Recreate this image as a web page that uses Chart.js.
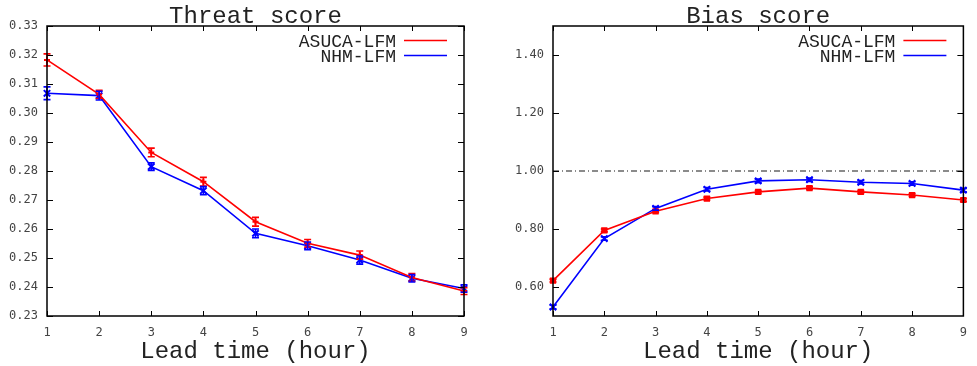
<!DOCTYPE html>
<html>
<head>
<meta charset="utf-8">
<script src="https://cdn.jsdelivr.net/npm/chart.js@4/dist/chart.umd.min.js"></script>
<style>
html, body { margin: 0; padding: 0; background: #fff; }
#wrap { position: relative; width: 977px; height: 366px; }
canvas { position: absolute; top: 0; }
</style>
</head>
<body>
<div id="wrap">
  <canvas id="threat" width="490" height="366" style="left:0"></canvas>
  <canvas id="bias" width="487" height="366" style="left:490px"></canvas>
</div>
<script>
// data
const leadTimes = [1, 2, 3, 4, 5, 6, 7, 8, 9];
const seriesNames = ['ASUCA-LFM', 'NHM-LFM'];

const threatAsuca = [0.3183, 0.3064, 0.2864, 0.2763, 0.2625, 0.2551, 0.2510, 0.2433, 0.2386];
const threatAsucaErr = [0.0021, 0.0014, 0.0015, 0.0015, 0.0015, 0.0013, 0.0014, 0.0013, 0.0012];
const threatNhm = [0.3068, 0.3060, 0.2815, 0.2732, 0.2585, 0.2542, 0.2493, 0.2430, 0.2395];
const threatNhmErr = [0.0022, 0.0015, 0.0013, 0.0014, 0.0015, 0.0013, 0.0014, 0.0013, 0.0013];

const biasAsuca = [0.622, 0.795, 0.861, 0.905, 0.928, 0.941, 0.928, 0.917, 0.900];
const biasAsucaErr = [0.005, 0.005, 0.005, 0.005, 0.005, 0.005, 0.005, 0.005, 0.005];
const biasNhm = [0.531, 0.767, 0.871, 0.937, 0.966, 0.970, 0.961, 0.957, 0.934];
const biasNhmErr = [0.006, 0.006, 0.006, 0.006, 0.006, 0.006, 0.006, 0.006, 0.006];
const biasRef = [1.0, 1.0];

const threatTicks = [0.23, 0.24, 0.25, 0.26, 0.27, 0.28, 0.29, 0.30, 0.31, 0.32, 0.33];
const biasTicks = [0.60, 0.80, 1.00, 1.20, 1.40];

const red = '#ff0000';
const blue = '#0000ff';
const mono = '"Liberation Mono", "Courier New", monospace';

Chart.defaults.font.family = '"DejaVu Sans Mono", monospace';
Chart.defaults.font.size = 12;
Chart.defaults.color = '#444';

// error bars, frame with inward ticks, title and legend (gnuplot look)
const errorBars = {
  id: 'errorBars',
  afterDatasetsDraw(chart) {
    const ctx = chart.ctx;
    const ys = chart.scales.y;
    chart.data.datasets.forEach((ds, i) => {
      if (!ds.errors) return;
      const meta = chart.getDatasetMeta(i);
      ctx.save();
      ctx.strokeStyle = ds.borderColor;
      ctx.lineWidth = 1.6;
      ctx.beginPath();
      meta.data.forEach((pt, j) => {
        const v = ds.data[j].y;
        const y1 = ys.getPixelForValue(v - ds.errors[j]);
        const y2 = ys.getPixelForValue(v + ds.errors[j]);
        ctx.moveTo(pt.x, y1); ctx.lineTo(pt.x, y2);
        ctx.moveTo(pt.x - 3.5, y1); ctx.lineTo(pt.x + 3.5, y1);
        ctx.moveTo(pt.x - 3.5, y2); ctx.lineTo(pt.x + 3.5, y2);
      });
      ctx.stroke();
      ctx.restore();
    });
  }
};

const frame = {
  id: 'frame',
  afterDraw(chart, args, opts) {
    const {ctx, chartArea: a, scales} = chart;
    ctx.save();
    ctx.strokeStyle = '#000';
    ctx.lineWidth = 1;
    ctx.beginPath();
    scales.x.ticks.forEach(t => {
      const px = Math.round(scales.x.getPixelForValue(t.value)) + 0.5;
      ctx.moveTo(px, a.bottom); ctx.lineTo(px, a.bottom - 5);
      ctx.moveTo(px, a.top); ctx.lineTo(px, a.top + 5);
    });
    scales.y.ticks.forEach(t => {
      const py = Math.round(scales.y.getPixelForValue(t.value)) + 0.5;
      ctx.moveTo(a.left, py); ctx.lineTo(a.left + 6, py);
      ctx.moveTo(a.right, py); ctx.lineTo(a.right - 6, py);
    });
    ctx.stroke();
    ctx.lineWidth = 1.5;
    ctx.strokeRect(a.left, a.top, a.width, a.height);

    ctx.fillStyle = '#222';
    ctx.font = '24px ' + mono;
    ctx.textAlign = 'center';
    ctx.textBaseline = 'alphabetic';
    ctx.fillText(opts.text, (a.left + a.right) / 2, 23);

    ctx.font = '18px ' + mono;
    ctx.textAlign = 'right';
    chart.data.datasets.filter(d => d.inLegend).forEach((d, i) => {
      const y = 40.5 + i * 15;
      ctx.fillStyle = '#222';
      ctx.fillText(d.label, a.right - 68, y + 6.5);
      ctx.strokeStyle = d.borderColor;
      ctx.lineWidth = 1.6;
      ctx.beginPath();
      ctx.moveTo(a.right - 60, y); ctx.lineTo(a.right - 17, y);
      ctx.stroke();
    });
    ctx.restore();
  }
};

function series(label, values, errors, color, style, radius) {
  return {
    label: label,
    data: leadTimes.map((t, i) => ({x: t, y: values[i]})),
    errors: errors,
    borderColor: color,
    backgroundColor: color,
    borderWidth: 1.6,
    pointStyle: style,
    pointRadius: radius,
    pointBorderWidth: 2,
    clip: false,
    inLegend: true
  };
}

function makeOptions(title, yTicks, yMin, yMax, yWidth, rightPad) {
  return {
    responsive: false,
    animation: false,
    layout: {padding: {top: 26, right: rightPad, left: 0, bottom: 0}},
    scales: {
      x: {
        type: 'linear', min: 1, max: 9,
        grid: {display: false, drawTicks: false},
        border: {display: false},
        ticks: {stepSize: 1, padding: 10, maxRotation: 0},
        title: {display: true, text: 'Lead time (hour)', color: '#222',
                font: {family: mono, size: 24}, padding: {top: 0, bottom: 0}},
        afterFit(scale) { scale.height = 50; }
      },
      y: {
        min: yMin,
        max: yMax,
        grid: {display: false, drawTicks: false},
        border: {display: false},
        ticks: {padding: 9, callback: v => v.toFixed(2)},
        afterBuildTicks(scale) { scale.ticks = yTicks.map(v => ({value: v})); },
        afterFit(scale) { scale.width = yWidth; }
      }
    },
    plugins: {
      legend: {display: false},
      tooltip: {enabled: false},
      frame: {text: title}
    }
  };
}

new Chart(document.getElementById('threat'), {
  type: 'line',
  data: {
    datasets: [
      series(seriesNames[0], threatAsuca, threatAsucaErr, red, 'cross', 3),
      series(seriesNames[1], threatNhm, threatNhmErr, blue, 'crossRot', 4.5)
    ]
  },
  options: makeOptions('Threat score', threatTicks, 0.23, 0.33, 47, 26),
  plugins: [errorBars, frame]
});

new Chart(document.getElementById('bias'), {
  type: 'line',
  data: {
    datasets: [
      series(seriesNames[0], biasAsuca, biasAsucaErr, red, 'rect', 3),
      series(seriesNames[1], biasNhm, biasNhmErr, blue, 'crossRot', 4.5),
      {
        label: 'ref',
        data: [{x: leadTimes[0], y: biasRef[0]}, {x: leadTimes[leadTimes.length - 1], y: biasRef[1]}],
        borderColor: '#666',
        borderWidth: 1.3,
        borderDash: [6, 3, 1, 3],
        pointRadius: 0
      }
    ]
  },
  options: makeOptions('Bias score', biasTicks, 0.5, 1.5, 63, 6),
  plugins: [errorBars, frame]
});
</script>
</body>
</html>
